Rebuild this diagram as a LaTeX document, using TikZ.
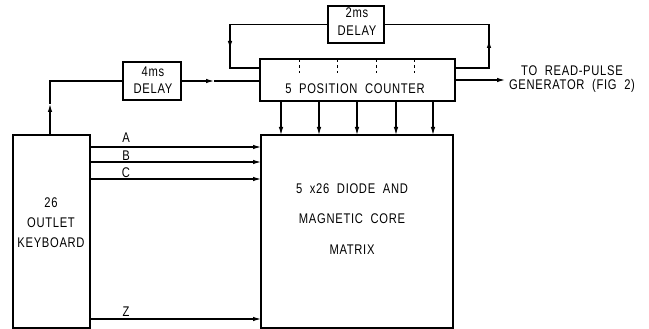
\documentclass[tikz,border=0pt]{standalone}
\usepackage{fontspec}
\newfontfamily\draft[FakeStretch=0.8,LetterSpace=5,WordSpace=2]{Liberation Sans}
\usetikzlibrary{arrows.meta}
\begin{document}
\begin{tikzpicture}[x=1pt,y=1pt, line width=1.1pt,
  box/.style={draw, rectangle, inner sep=0pt, outer sep=0pt},
  txt/.style={font=\draft\fontsize{14}{17}\selectfont, inner sep=0pt, align=center},
  tip/.style={-{Latex[length=8pt,width=4.5pt]}},
  divider/.style={dash pattern=on 3pt off 3pt, line width=0.8pt}]
\useasboundingbox (0,0) rectangle (649,-329);
% boxes
\node[box, minimum width=77pt, minimum height=193pt] (kbd) at (51.5,-231.5) {};
\node[box, minimum width=58pt, minimum height=38pt] (d4) at (152,-81) {};
\node[box, minimum width=195pt, minimum height=42pt] (cnt) at (357.5,-80) {};
\node[box, minimum width=56pt, minimum height=37pt] (d2) at (356,-24.5) {};
\node[box, minimum width=192pt, minimum height=193pt] (mat) at (357,-231.5) {};
% texts
\node[txt, font=\draft\fontsize{14}{20}\selectfont] (tkbd) at (51,-223) {26\\OUTLET\\KEYBOARD};
\node[txt] (td4) at (153,-80.5) {4ms\\DELAY};
\node[txt, font=\draft\fontsize{14}{18}\selectfont] (td2) at (357,-22) {2ms\\DELAY};
\node[txt] (tcnt) at (355,-89) {5 POSITION COUNTER};
\node[txt, font=\draft\fontsize{14}{30.5}\selectfont] (tmat) at (352,-219) {5 x26 DIODE AND\\MAGNETIC CORE\\MATRIX};
\node[txt, font=\draft\fontsize{14}{14.5}\selectfont] (out) at (572,-79) {TO READ-PULSE\\GENERATOR (FIG 2)};
% coordinates
\coordinate (k1) at (50,-81);
\coordinate (km) at (50,-104);
\coordinate (dm) at (214,-81);
\coordinate (l1) at (230,-24.5);
\coordinate (lm) at (230,-49);
\coordinate (l2) at (230,-68);
\coordinate (r1) at (489,-68);
\coordinate (rm) at (489,-40);
\coordinate (r2) at (489,-24.5);
\coordinate (o) at (505,-80);
% connectors
\draw[tip] (kbd.north -| k1) -- (km);
\draw (km) -- (k1) -- (k1 -| d4.west);
\draw[tip] (d4.east) -- (dm);
\draw (dm) -- (dm -| cnt.west);
\draw (d2.west) -- (l1) -- (lm);
\draw[tip] (l1) -- (lm);
\draw (lm) -- (l2) -- (l2 -| cnt.west);
\draw (r1 -| cnt.east) -- (r1) -- (rm);
\draw[tip] (r1) -- (rm);
\draw (rm) -- (r2) -- (d2.east);
\draw[tip] (cnt.east) -- (o);
\foreach \x in {281,319,357,396,433}
  \draw[tip] (cnt.south -| \x,0) -- (mat.north -| \x,0);
\foreach \x in {299,337,376,414}
  \draw[divider] (cnt.north -| \x,0) -- ++(0,-14);
\foreach \y/\n/\ly in {147/A/138,162/B/155.5,179/C/172.5,319/Z/312} {
  \draw[tip] (kbd.east |- 0,-\y) -- (mat.west |- 0,-\y);
  \node[txt] (lab\n) at (126,-\ly) {\n};
}
\end{tikzpicture}
\end{document}
